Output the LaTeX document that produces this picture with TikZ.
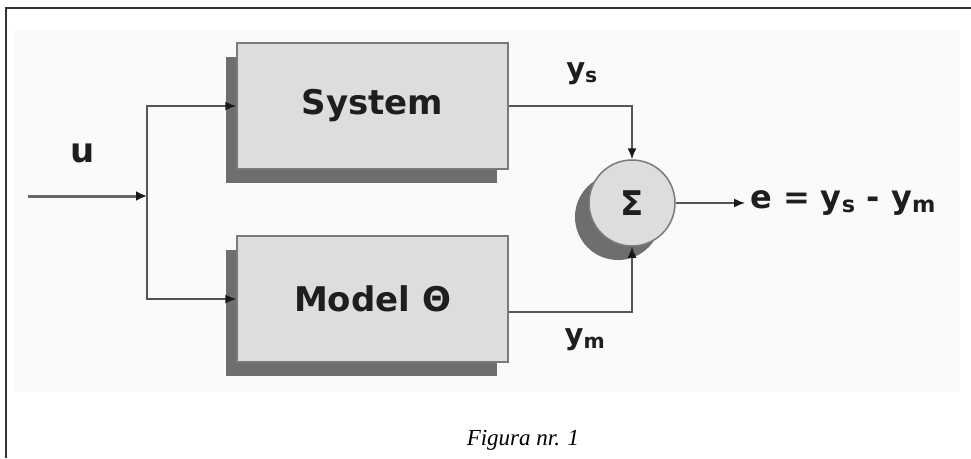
\documentclass[tikz,border=0pt]{standalone}
\usepackage{fontspec}
\setmainfont{Liberation Serif}
\setsansfont{DejaVu Sans}
\usetikzlibrary{arrows.meta,shadows}
\definecolor{boxfill}{HTML}{DDDDDD}
\definecolor{boxline}{HTML}{7A7A7A}
\definecolor{shade}{HTML}{6E6E6E}
\definecolor{linegray}{HTML}{555555}
\definecolor{inkdark}{HTML}{1E1E1E}

\begin{document}
\begin{tikzpicture}[x=1pt,y=-1pt,
  block/.style={draw=boxline,line width=1.5pt,fill=boxfill,minimum width=271pt,
    minimum height=126pt,inner sep=0pt,text=inkdark,
    font=\sffamily\bfseries\fontsize{34}{36}\selectfont,
    general shadow={fill=shade,shadow xshift=-11pt,shadow yshift=-14pt}},
  sumnode/.style={circle,draw=boxline,line width=1.5pt,fill=boxfill,minimum size=86pt,
    inner sep=0pt,text=inkdark,font=\sffamily\bfseries\fontsize{34}{36}\selectfont,
    general shadow={fill=shade,shadow xshift=-14pt,shadow yshift=-14pt}},
  lbl/.style={inner sep=0pt,text=inkdark,font=\sffamily\bfseries\fontsize{29}{31}\selectfont},
  wire/.style={draw=linegray,line width=1.5pt,
    -{Latex[length=11pt,width=9pt,color=black!90]}}]
  \useasboundingbox (0,0) rectangle (971,458);
  % frame of the figure
  \fill[black!2] (13,30) rectangle (960,392);
  \draw[line width=1.5pt,black!80] (6,458) -- (6,8) -- (971,8);
  % blocks
  \node[block] (sys) at (372.5,106) {System};
  \node[block] (mod) at (372.5,299) {Model Θ};
  \node[sumnode] (sum) at (632,203) {Σ};
  % input u
  \coordinate (in) at (28,196);
  \coordinate (split) at (147,196);
  \node[lbl,font=\sffamily\bfseries\fontsize{34}{36}\selectfont] (u) at (83,153) {u};
  \draw[draw=black!60,line width=3pt,-{Latex[length=11pt,width=10pt,color=black!90]}]
    (in) -- (split);
  \draw[wire] (split) |- (sys.west);
  \draw[wire] (split) |- (mod.west);
  % outputs to the summing point
  \draw[wire] (sys.east) -| (sum.north);
  \draw[wire] ([yshift=-13pt]mod.east) -| (sum.south);
  \node[lbl] (ys) at (582,74) {y\textsubscript{s}};
  \node[lbl] (ym) at (585,340) {y\textsubscript{m}};
  % error
  \node[lbl,anchor=west,inner sep=5pt,font=\sffamily\bfseries\fontsize{32}{34}\selectfont]
    (err) at (745,203) {e = y\textsubscript{s} - y\textsubscript{m}};
  \draw[wire] (sum.east) -- (err.west);
  % caption
  \node[font=\itshape\fontsize{23}{25}\selectfont] (cap) at (523,440) {Figura nr. 1};
\end{tikzpicture}
\end{document}
